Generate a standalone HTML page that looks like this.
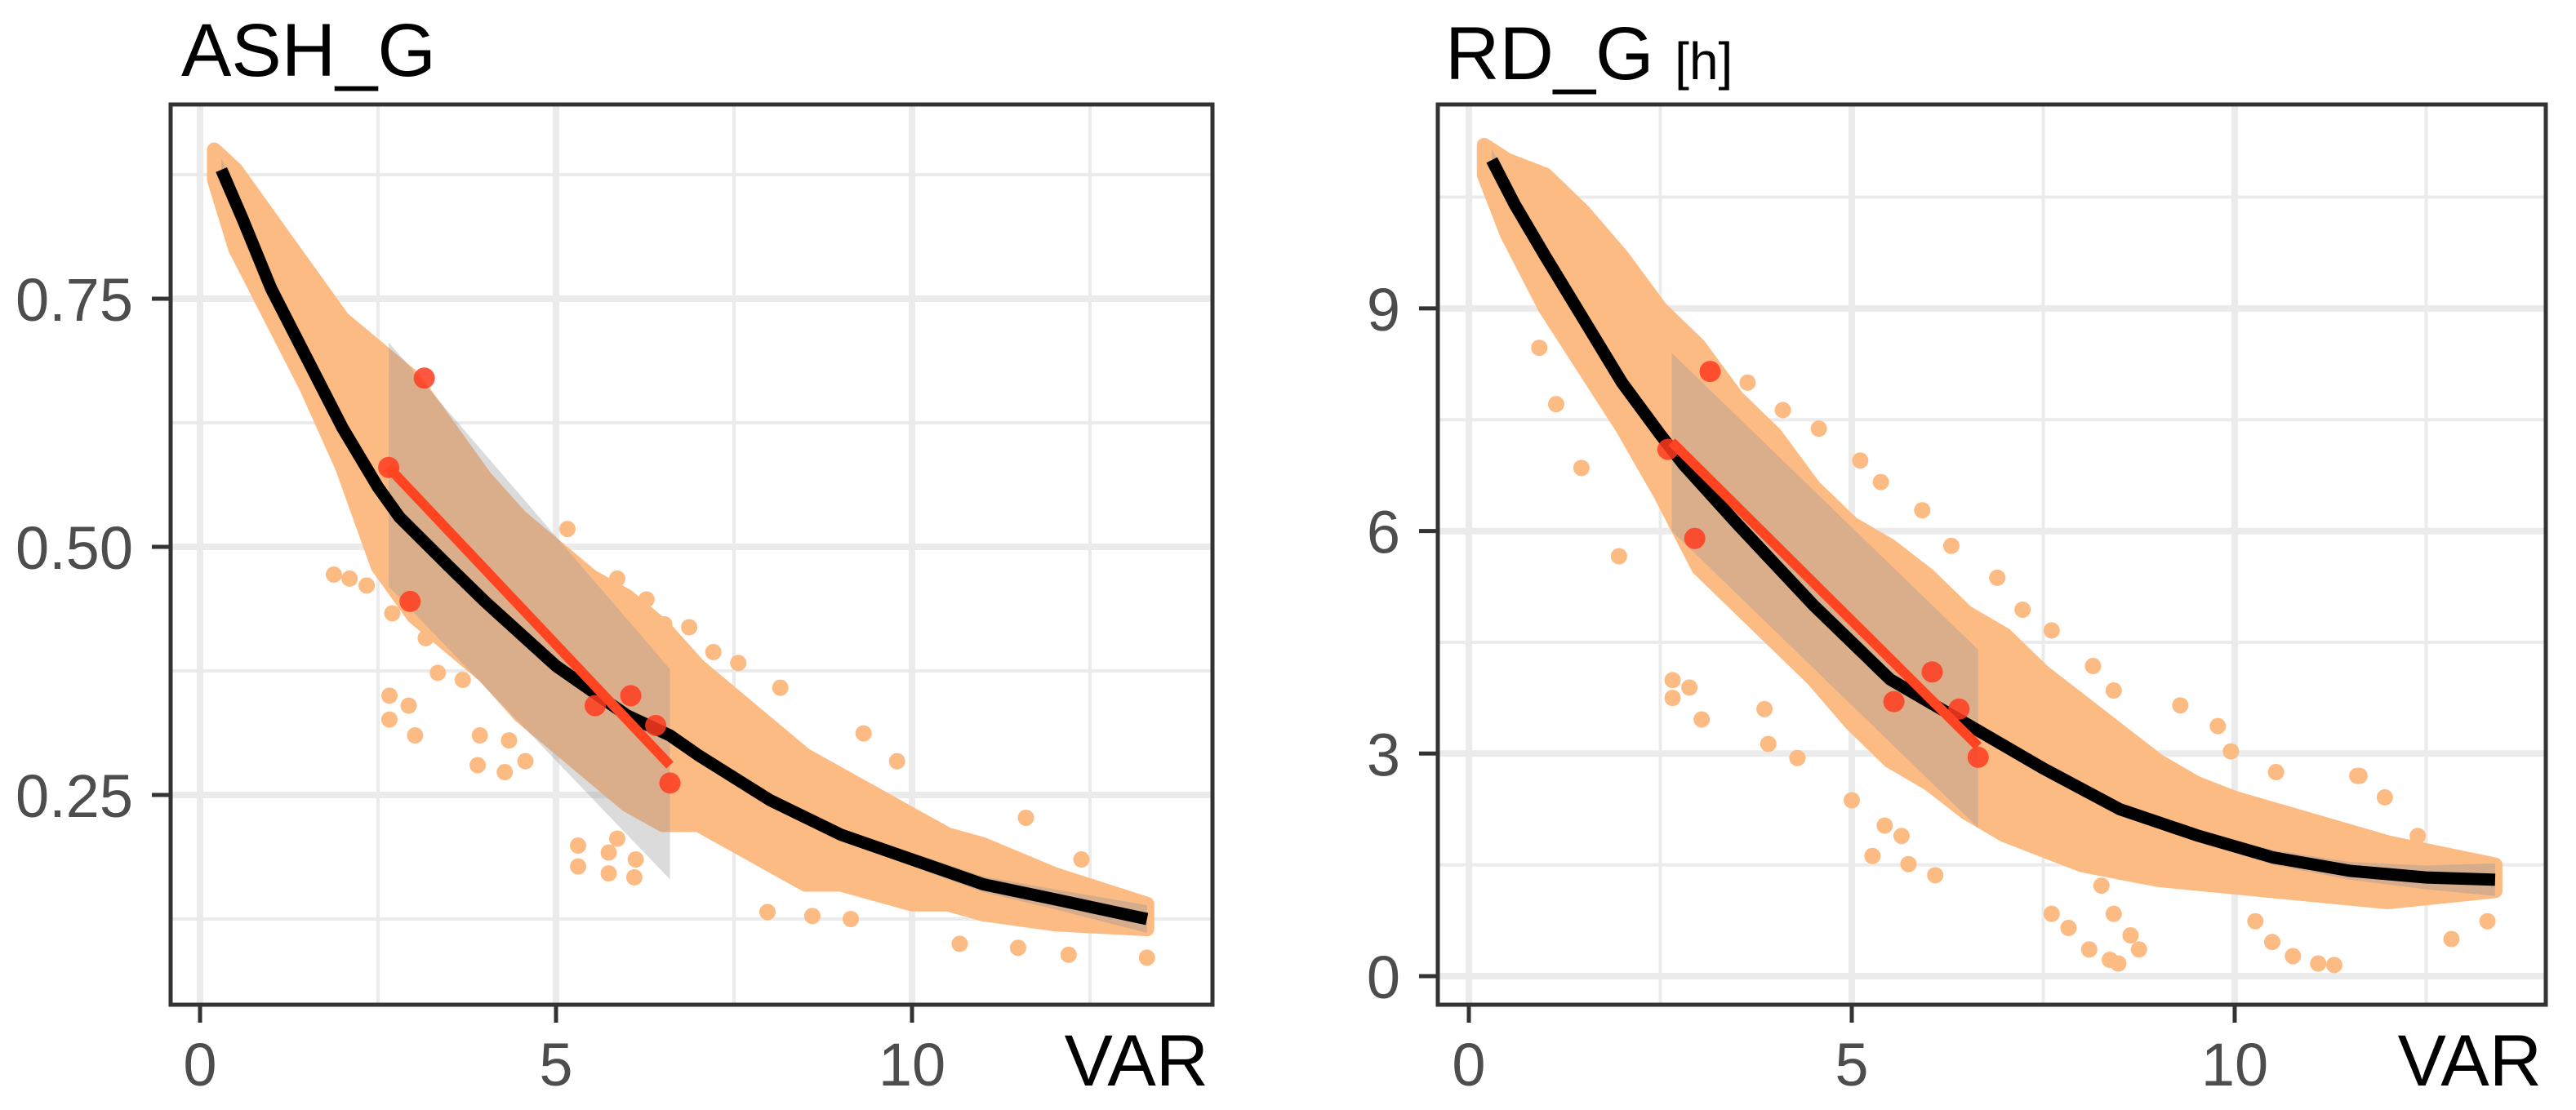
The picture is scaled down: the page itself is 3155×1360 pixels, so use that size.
<!DOCTYPE html>
<html><head><meta charset="utf-8"><style>
html,body{margin:0;padding:0;background:#fff;}
svg{display:block;}
text{font-family:"Liberation Sans",Arial,sans-serif;}
</style></head><body>
<svg id="chart" width="3155" height="1360" viewBox="0 0 3155 1360" xmlns="http://www.w3.org/2000/svg">
<rect x="0" y="0" width="3155" height="1360" fill="#fff"/>
<g id="left-panel"></g>
<g id="right-panel"></g>
<text x="222" y="93" font-size="92" fill="#000">ASH_G</text>
<text x="1770" y="97" font-size="92" fill="#000">RD_G <tspan font-size="64">[h]</tspan></text>
</svg>
<script>
// ---------- ASH_G data ----------
const ashXTicks = [0, 5, 10];
const ashYTicks = [0.25, 0.50, 0.75];
const ashYTickLabels = ["0.25", "0.50", "0.75"];
const ashBandX = [0.2,0.5,1,1.5,2,2.5,3,3.5,4,4.5,5,5.5,6,6.5,7,7.5,8,8.5,9,9.5,10,10.5,11,12,13.3];
const ashBandHi = [0.90,0.88,0.83,0.78,0.73,0.70,0.67,0.62,0.57,0.53,0.50,0.47,0.45,0.42,0.38,0.35,0.32,0.29,0.27,0.25,0.23,0.21,0.20,0.17,0.14];
const ashBandLo = [0.87,0.80,0.73,0.66,0.58,0.48,0.43,0.40,0.37,0.33,0.30,0.27,0.24,0.22,0.22,0.20,0.18,0.16,0.16,0.15,0.14,0.14,0.13,0.12,0.115];
const ashPtsX = [1.85,2.66,2.66,2.93,3.02,3.93,3.9,4.34,4.57,4.28,5.31,5.31,5.74,5.86,6.12,6.1,5.74,7.97,8.6,9.14,10.67,11.49,12.2,13.3,11.6,12.38,9.79,9.32,8.15,7.56,7.21,6.87,6.52,6.27,5.86,5.51,5.16,1.88,2.1,2.34,2.7,3.17,3.34,3.69];
const ashPtsY = [0.737,0.35,0.326,0.34,0.31,0.31,0.28,0.305,0.284,0.273,0.199,0.178,0.192,0.206,0.185,0.167,0.171,0.132,0.128,0.125,0.1,0.096,0.089,0.086,0.227,0.185,0.284,0.312,0.358,0.383,0.394,0.419,0.422,0.447,0.468,0.468,0.518,0.472,0.468,0.461,0.433,0.408,0.373,0.366];
const ashFitX = [0.3,0.6,1,1.5,2,2.5,2.8,3.5,4,5,6,6.6,7,8,9,10,11,12,13.3];
const ashFitY = [0.88,0.83,0.76,0.69,0.62,0.56,0.53,0.48,0.445,0.38,0.33,0.31,0.29,0.245,0.21,0.185,0.16,0.145,0.125];
const ashFitSE = [0.012,0.01,0.008,0.007,0.007,0.007,0.007,0.006,0.006,0.006,0.006,0.006,0.006,0.006,0.006,0.007,0.008,0.01,0.014];
const ashRedLineX = [2.65, 6.6];
const ashRedLineY = [0.58, 0.28];
const ashRedCiHi = [0.706, 0.377];
const ashRedCiLo = [0.46, 0.165];
const ashRedX = [2.65,2.95,3.15,5.55,6.05,6.4,6.6];
const ashRedY = [0.58,0.445,0.67,0.34,0.35,0.32,0.262];

// ---------- RD_G data ----------
const rdXTicks = [0, 5, 10];
const rdYTicks = [0, 3, 6, 9];
const rdYTickLabels = ["0", "3", "6", "9"];
const rdBandX = [0.2,0.5,1,1.5,2,2.5,3,3.5,4,4.5,5,5.5,6,6.5,7,7.5,8,8.5,9,9.5,10,11,12,13.4];
const rdBandHi = [11.2,11.0,10.8,10.3,9.7,9.0,8.5,7.8,7.3,6.6,6.1,5.8,5.4,4.9,4.6,4.1,3.7,3.3,2.9,2.6,2.4,2.1,1.8,1.5];
const rdBandLo = [10.8,10.0,9.0,8.2,7.4,6.5,5.5,5.0,4.5,4.0,3.4,2.9,2.6,2.2,1.9,1.7,1.5,1.4,1.3,1.25,1.2,1.1,1.0,1.15];
const rdPtsX = [7.61,7.83,8.1,8.37,8.48,8.26,8.42,8.64,8.75,10.27,10.49,10.76,11.09,11.3,12.83,13.3,11.63,12.39,11.96,2.66,2.88,3.04,2.66,3.91,4.29,5.27,5.74,6.09,5.0,5.43,5.65,1.96,1.47,1.14,0.92,2.72,3.64,4.1,4.57,5.11,5.38,5.92,6.3,6.9,7.23,7.61,8.15,8.42,9.29,9.78,9.95,10.54,11.6,3.86];
const rdPtsY = [0.84,0.65,0.36,0.22,0.17,1.22,0.84,0.55,0.36,0.74,0.46,0.27,0.17,0.15,0.5,0.74,2.7,1.89,2.41,3.99,3.89,3.46,3.75,3.13,2.94,1.62,1.51,1.36,2.37,2.03,1.89,5.66,6.85,7.71,8.47,8.71,8.0,7.63,7.38,6.95,6.66,6.28,5.8,5.37,4.94,4.66,4.18,3.85,3.65,3.37,3.03,2.75,2.7,3.6];
const rdFitX = [0.3,0.6,1,1.5,2,2.5,2.8,3.5,4.5,5.5,6.5,7.5,8.5,9.5,10,10.5,11.5,12.5,13.4];
const rdFitY = [11.0,10.4,9.7,8.85,8.0,7.3,6.9,6.1,5.0,4.0,3.4,2.8,2.25,1.9,1.75,1.6,1.42,1.33,1.3];
const rdFitSE = [0.15,0.12,0.1,0.09,0.09,0.09,0.09,0.08,0.08,0.08,0.08,0.08,0.08,0.09,0.09,0.1,0.12,0.16,0.22];
const rdRedLineX = [2.65, 6.65];
const rdRedLineY = [7.2, 3.1];
const rdRedCiHi = [8.4, 4.4];
const rdRedCiLo = [6.0, 2.0];
const rdRedX = [2.6,2.95,3.15,5.55,6.05,6.4,6.65];
const rdRedY = [7.1,5.9,8.15,3.7,4.1,3.6,2.95];

const NS = "http://www.w3.org/2000/svg";
function mk(parent, tag, attrs){
  const e = document.createElementNS(NS, tag);
  for (const k in attrs) e.setAttribute(k, attrs[k]);
  parent.appendChild(e);
  return e;
}

function drawPanel(g, cfg){
  const xs = v => cfg.x0px + (v - 0) * cfg.xPer;
  const ys = v => cfg.yRefPx - (v - cfg.yRef) * cfg.yPer;
  const L = cfg.left, R = cfg.right, T = cfg.top, B = cfg.bottom;
  cfg.xMinor.forEach(v => {
    const l = mk(g, 'line', {x1: xs(v), x2: xs(v), y1: T, y2: B, stroke: '#ebebeb', 'stroke-width': 4});
    
    
  });
  cfg.yMinor.forEach(v => {
    const l = mk(g, 'line', {x1: L, x2: R, y1: ys(v), y2: ys(v), stroke: '#ebebeb', 'stroke-width': 4});
    
    
  });
  cfg.xTicks.forEach(v => {
    const l = mk(g, 'line', {x1: xs(v), x2: xs(v), y1: T, y2: B, stroke: '#ebebeb', 'stroke-width': 8});
    
    
  });
  cfg.yTicks.forEach(v => {
    const l = mk(g, 'line', {x1: L, x2: R, y1: ys(v), y2: ys(v), stroke: '#ebebeb', 'stroke-width': 8});
    
    
  });
  let d = '';
  cfg.bandX.forEach((x, i) => { d += (i ? 'L' : 'M') + xs(x) + ' ' + ys(cfg.bandHi[i]); });
  for (let i = cfg.bandX.length - 1; i >= 0; i--) d += 'L' + xs(cfg.bandX[i]) + ' ' + ys(cfg.bandLo[i]);
  const cloud = mk(g, 'path', {d: d + 'Z', fill: '#fdbb84', stroke: '#fdbb84', 'stroke-width': 18, 'stroke-linejoin': 'round'});
  
  
  cfg.ptsX.forEach((x, i) => {
    const c = mk(g, 'circle', {cx: xs(x), cy: ys(cfg.ptsY[i]), r: 10, fill: '#fdbb84'});
    
    
  });
  let dc = '';
  cfg.fitX.forEach((x, i) => { dc += (i ? 'L' : 'M') + xs(x) + ' ' + ys(cfg.fitY[i] + cfg.fitSE[i]); });
  for (let i = cfg.fitX.length - 1; i >= 0; i--) dc += 'L' + xs(cfg.fitX[i]) + ' ' + ys(cfg.fitY[i] - cfg.fitSE[i]);
  const ci = mk(g, 'path', {d: dc + 'Z', fill: '#999', 'fill-opacity': 0.4});
  
  
  const rci = mk(g, 'path', {d: 'M' + xs(cfg.redLX[0]) + ' ' + ys(cfg.redHi[0]) + 'L' + xs(cfg.redLX[1]) + ' ' + ys(cfg.redHi[1]) + 'L' + xs(cfg.redLX[1]) + ' ' + ys(cfg.redLo[1]) + 'L' + xs(cfg.redLX[0]) + ' ' + ys(cfg.redLo[0]) + 'Z', fill: '#999', 'fill-opacity': 0.35});
  
  
  const pts = cfg.fitX.map((x, i) => xs(x) + ',' + ys(cfg.fitY[i])).join(' ');
  const fl = mk(g, 'polyline', {points: pts, fill: 'none', stroke: '#000', 'stroke-width': 15, 'stroke-linejoin': 'round'});
  
  
  cfg.redX.forEach((x, i) => {
    const c = mk(g, 'circle', {cx: xs(x), cy: ys(cfg.redY[i]), r: 13, fill: '#ff3b1f', 'fill-opacity': 0.85});
    
    
  });
  const rl = mk(g, 'line', {x1: xs(cfg.redLX[0]), y1: ys(cfg.redLY[0]), x2: xs(cfg.redLX[1]), y2: ys(cfg.redLY[1]), stroke: '#ff4422', 'stroke-width': 12});
  
  
  const bd = mk(g, 'rect', {x: L, y: T, width: R - L, height: B - T, fill: 'none', stroke: '#333', 'stroke-width': 5});
  
  
  cfg.xTicks.forEach(v => {
    const t = mk(g, 'line', {x1: xs(v), x2: xs(v), y1: B, y2: B + 22, stroke: '#333', 'stroke-width': 5});
    
    
    const tx = mk(g, 'text', {x: xs(v), y: 1330, 'font-size': 74, fill: '#4d4d4d', 'text-anchor': 'middle'});
    tx.textContent = String(v);
    
    
  });
  cfg.yTicks.forEach((v, i) => {
    const t = mk(g, 'line', {x1: L - 23, x2: L, y1: ys(v), y2: ys(v), stroke: '#333', 'stroke-width': 5});
    
    
    const tx = mk(g, 'text', {x: L - 46, y: ys(v) + 27, 'font-size': 74, fill: '#4d4d4d', 'text-anchor': 'end'});
    tx.textContent = cfg.yLabels[i];
    
    
  });
  const xt = mk(g, 'text', {x: R - 5, y: 1330, 'font-size': 89, fill: '#000', 'text-anchor': 'end'});
  xt.textContent = 'VAR';
  
  
}

drawPanel(document.getElementById('left-panel'), {
  left: 209, right: 1485, top: 128, bottom: 1231,
  x0px: 245, xPer: 87.2, yRef: 0.75, yRefPx: 366, yPer: 1216,
  xTicks: ashXTicks, yTicks: ashYTicks, yLabels: ashYTickLabels,
  xMinor: [2.5, 7.5, 12.5], yMinor: [0.125, 0.375, 0.625, 0.875],
  bandX: ashBandX, bandHi: ashBandHi, bandLo: ashBandLo,
  ptsX: ashPtsX, ptsY: ashPtsY,
  fitX: ashFitX, fitY: ashFitY, fitSE: ashFitSE,
  redLX: ashRedLineX, redLY: ashRedLineY, redHi: ashRedCiHi, redLo: ashRedCiLo,
  redX: ashRedX, redY: ashRedY
});
drawPanel(document.getElementById('right-panel'), {
  left: 1761, right: 3118, top: 128, bottom: 1231,
  x0px: 1799, xPer: 93.8, yRef: 0, yRefPx: 1196, yPer: 90.9,
  xTicks: rdXTicks, yTicks: rdYTicks, yLabels: rdYTickLabels,
  xMinor: [2.5, 7.5, 12.5], yMinor: [1.5, 4.5, 7.5, 10.5],
  bandX: rdBandX, bandHi: rdBandHi, bandLo: rdBandLo,
  ptsX: rdPtsX, ptsY: rdPtsY,
  fitX: rdFitX, fitY: rdFitY, fitSE: rdFitSE,
  redLX: rdRedLineX, redLY: rdRedLineY, redHi: rdRedCiHi, redLo: rdRedCiLo,
  redX: rdRedX, redY: rdRedY
});
</script>
</body></html>
